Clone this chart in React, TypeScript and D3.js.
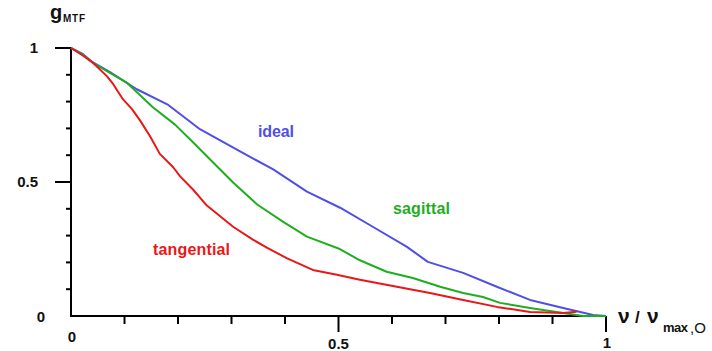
import { useEffect, useRef } from 'react'
import * as d3 from 'd3'

// values (x = ν/ν_max,O, y = g_MTF)
const idealX = [0, 0.022, 0.041, 0.073, 0.123, 0.18, 0.241, 0.316, 0.378, 0.441, 0.503, 0.564, 0.628, 0.667, 0.733, 0.796, 0.858, 0.92, 0.976, 1]
const idealY = [1, 0.978, 0.946, 0.91, 0.846, 0.79, 0.697, 0.614, 0.547, 0.464, 0.404, 0.333, 0.258, 0.202, 0.161, 0.109, 0.06, 0.03, 0.004, 0]

const sagittalX = [0, 0.022, 0.041, 0.104, 0.153, 0.194, 0.228, 0.254, 0.303, 0.348, 0.396, 0.441, 0.5, 0.54, 0.59, 0.639, 0.69, 0.733, 0.77, 0.802, 0.858, 0.92, 0.957, 1]
const sagittalY = [1, 0.975, 0.944, 0.871, 0.779, 0.715, 0.648, 0.596, 0.498, 0.416, 0.352, 0.296, 0.252, 0.208, 0.165, 0.142, 0.109, 0.086, 0.071, 0.049, 0.03, 0.011, 0, 0]

const tangentialX = [0, 0.022, 0.041, 0.067, 0.079, 0.097, 0.114, 0.129, 0.148, 0.166, 0.191, 0.204, 0.228, 0.254, 0.303, 0.34, 0.366, 0.404, 0.452, 0.497, 0.54, 0.609, 0.671, 0.733, 0.796, 0.858, 0.92, 0.945]
const tangentialY = [1, 0.972, 0.945, 0.895, 0.865, 0.809, 0.772, 0.73, 0.67, 0.605, 0.555, 0.521, 0.472, 0.412, 0.333, 0.285, 0.255, 0.215, 0.172, 0.154, 0.135, 0.109, 0.086, 0.06, 0.034, 0.015, 0.011, 0.016]

const minorTicks = [0.1, 0.2, 0.3, 0.4, 0.6, 0.7, 0.8, 0.9]
const majorTicks = [0.5, 1]

const BLUE = '#4f4fe8'
const GREEN = '#1fae1f'
const RED = '#e81818'
const FONT = '"Liberation Sans", Arial, sans-serif'

export default function App() {
  const svgRef = useRef<SVGSVGElement>(null)

  useEffect(() => {
    const svg = d3.select(svgRef.current)
    svg.selectAll('*').remove()

    const x = d3.scaleLinear().domain([0, 1]).range([71, 606])
    const y = d3.scaleLinear().domain([0, 1]).range([316, 48])

    // axes (ticks drawn by hand like the original: minor short, major long, no tick at 0)
    const ax = svg.append('g').attr('stroke', '#000').attr('stroke-width', 2)
    ax.append('line').attr('x1', x(0)).attr('x2', x(0)).attr('y1', y(1)).attr('y2', y(0) + 1)
    ax.append('line').attr('x1', x(0) - 1).attr('x2', x(1)).attr('y1', y(0)).attr('y2', y(0))
    ax.selectAll('.ym').data(minorTicks).join('line')
      .attr('x1', x(0) - 5).attr('x2', x(0)).attr('y1', d => y(d)).attr('y2', d => y(d))
    ax.selectAll('.yM').data(majorTicks).join('line')
      .attr('x1', x(0) - 16).attr('x2', x(0)).attr('y1', d => y(d)).attr('y2', d => y(d))
    ax.selectAll('.xm').data(minorTicks).join('line')
      .attr('x1', d => x(d)).attr('x2', d => x(d)).attr('y1', y(0)).attr('y2', y(0) + 8)
    ax.selectAll('.xM').data(majorTicks).join('line')
      .attr('x1', d => x(d)).attr('x2', d => x(d)).attr('y1', y(0)).attr('y2', y(0) + 16)

    const lbl = svg.append('g').attr('font-family', FONT).attr('font-weight', 'bold').attr('font-size', 15).attr('fill', '#111')
    lbl.append('text').attr('x', 38).attr('y', y(1) + 5).attr('text-anchor', 'end').text('1')
    lbl.append('text').attr('x', 38).attr('y', y(0.5) + 5).attr('text-anchor', 'end').text('0.5')
    lbl.append('text').attr('x', 45).attr('y', y(0) + 6).attr('text-anchor', 'end').text('0')
    lbl.append('text').attr('x', x(0) + 1).attr('y', 342).attr('text-anchor', 'middle').text('0')
    lbl.append('text').attr('x', x(0.5)).attr('y', 349).attr('text-anchor', 'middle').text('0.5')
    lbl.append('text').attr('x', x(1) + 1).attr('y', 348).attr('text-anchor', 'middle').text('1')

    // axis titles
    const t = svg.append('g').attr('font-family', FONT).attr('font-weight', 'bold').attr('fill', '#111')
    t.append('text').attr('x', 50).attr('y', 19).attr('font-size', 20).text('g')
    t.append('text').attr('x', 63).attr('y', 22).attr('font-size', 10).attr('textLength', 22).text('MTF')
    t.append('text').attr('x', 618).attr('y', 323).attr('font-size', 21).text('ν')
    t.append('text').attr('x', 635).attr('y', 323).attr('font-size', 17).text('/')
    t.append('text').attr('x', 647).attr('y', 323).attr('font-size', 21).text('ν')
    t.append('text').attr('x', 663).attr('y', 332).attr('font-size', 13).attr('textLength', 25).text('max')
    t.append('text').attr('x', 690).attr('y', 333).attr('font-size', 15).attr('font-weight', 'normal').text(',O')

    // curves
    const line = d3.line<[number, number]>().x(d => x(d[0])).y(d => y(d[1]))
    const series = [
      { xs: idealX, ys: idealY, color: BLUE },
      { xs: sagittalX, ys: sagittalY, color: GREEN },
      { xs: tangentialX, ys: tangentialY, color: RED },
    ]
    svg.append('g').selectAll('path').data(series).join('path')
      .attr('d', s => line(s.xs.map((v, i) => [v, s.ys[i]] as [number, number])))
      .attr('fill', 'none').attr('stroke', s => s.color).attr('stroke-width', 2)
      .attr('stroke-linejoin', 'round')

    // curve labels
    const cl = svg.append('g').attr('font-family', FONT).attr('font-weight', 'bold').attr('font-size', 16)
    cl.append('text').attr('x', 258).attr('y', 137).attr('fill', BLUE).attr('textLength', 36).text('ideal')
    cl.append('text').attr('x', 393).attr('y', 214).attr('fill', GREEN).attr('textLength', 57).text('sagittal')
    cl.append('text').attr('x', 153).attr('y', 255).attr('fill', RED).attr('textLength', 77).text('tangential')
  }, [])

  return (
    <svg ref={svgRef} width={712} height={351}
      style={{ position: 'absolute', left: 0, top: 0, background: '#fff' }} />
  )
}
